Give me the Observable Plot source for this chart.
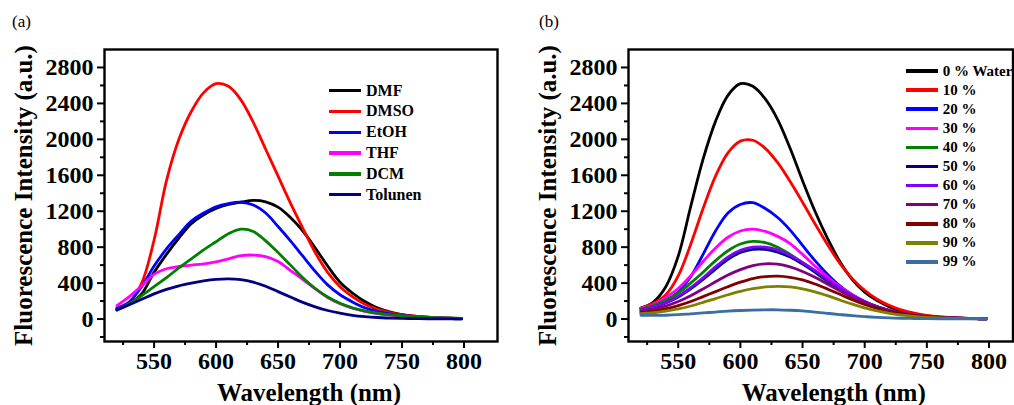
<!DOCTYPE html>
<html><head><meta charset="utf-8">
<script src="https://cdn.jsdelivr.net/npm/d3@7"></script>
<script src="https://cdn.jsdelivr.net/npm/@observablehq/plot@0.6"></script>
<style>
body{margin:0;background:#fff;}
#wrap{position:relative;width:1014px;height:405px;overflow:hidden;font-family:"Liberation Serif","Times New Roman",serif;color:#000;}
#wrap svg text{font-family:"Liberation Serif","Times New Roman",serif !important;}
.panel{position:absolute;top:0;}
.plabel{position:absolute;top:12px;font-size:17px;}
.legend{position:absolute;font-weight:bold;}
.legend .row{display:flex;align-items:center;white-space:nowrap;}
.legend .sw{display:inline-block;width:32px;height:3.5px;margin-right:5px;}
</style></head><body><div id="wrap"></div><script>
const wavelengths = [520,530,540,550,560,570,580,590,600,610,620,630,640,650,660,670,680,690,700,710,720,730,740,750,760,770,780,790,798];

// Panel (a): solvents
const solventNames = ["DMF","DMSO","EtOH","THF","DCM","Tolunen"];
const solventColors = ["#000000","#ff0000","#0000ff","#ff00ff","#008000","#000080"];
const DMF     = [110,170,280,520,720,900,1060,1160,1230,1275,1300,1320,1305,1245,1130,980,790,590,410,290,195,125,80,50,33,22,14,9,6];
const DMSO    = [125,190,400,880,1540,2000,2310,2520,2620,2590,2440,2190,1890,1590,1290,1010,740,520,360,250,165,110,72,46,32,22,15,10,6];
const EtOH    = [120,190,360,590,780,940,1090,1180,1250,1285,1300,1270,1180,1030,870,700,530,380,270,190,125,85,58,40,26,18,12,8,5];
const THF     = [150,250,370,500,560,585,600,615,635,670,705,712,695,640,540,440,335,240,170,120,85,60,44,33,24,17,12,8,6];
const DCM     = [100,170,260,360,460,570,670,770,860,950,1000,975,870,740,600,460,340,245,175,125,90,65,48,36,27,20,14,10,7];
const Tolunen = [100,160,220,280,330,370,400,425,442,448,438,410,365,305,245,185,135,95,65,42,27,17,11,7,5,3,2,1,0];
const solventSeries = [DMF, DMSO, EtOH, THF, DCM, Tolunen];

// Panel (b): water fractions
const waterNames = ["0 % Water","10 %","20 %","30 %","40 %","50 %","60 %","70 %","80 %","90 %","99 %"];
const waterColors = ["#000000","#ff0000","#0000ff","#ff00ff","#008000","#000080","#8000ff","#800080","#800000","#808000","#3a6ea5"];
const w0  = [120,190,360,700,1250,1780,2200,2490,2620,2590,2450,2220,1900,1540,1200,900,640,440,300,205,135,88,55,34,22,14,9,5,3];
const w10 = [125,175,270,480,830,1230,1590,1850,1980,1990,1900,1740,1530,1300,1060,830,620,450,320,220,150,100,66,42,27,17,10,6,3];
const w20 = [120,150,200,300,470,720,980,1180,1275,1295,1230,1130,990,820,650,500,370,270,195,135,92,60,40,26,17,11,7,4,2];
const w30 = [120,160,240,340,480,640,790,910,980,1000,975,920,840,720,590,470,360,270,195,135,92,60,40,26,17,11,7,4,2];
const w40 = [110,150,210,290,400,520,650,760,835,865,850,800,720,625,520,420,325,245,180,128,88,58,38,25,16,10,6,4,2];
const w50 = [95,130,178,245,335,440,555,665,740,775,775,745,690,612,525,430,338,257,188,135,94,63,42,27,17,11,7,4,2];
const w60 = [100,135,185,255,350,460,580,690,765,800,800,770,710,630,540,440,345,262,192,138,96,65,43,28,18,11,7,4,2];
const w70 = [85,110,145,195,260,335,415,490,550,595,615,610,580,530,465,390,315,245,183,133,93,63,42,27,17,11,7,4,2];
const w80 = [70,90,115,150,195,250,305,360,410,450,473,478,465,435,390,335,275,215,162,118,83,57,38,25,16,10,6,4,2];
const w90 = [60,70,88,112,145,185,228,270,308,338,357,364,358,337,303,260,212,166,125,90,63,43,29,19,12,8,5,3,2];
const w99 = [42,40,42,48,58,68,78,88,95,100,103,103,98,90,78,64,50,37,27,19,13,9,6,4,3,2,1,1,0];
const waterSeries = [w0,w10,w20,w30,w40,w50,w60,w70,w80,w90,w99];

const xTicks = [550,600,650,700,750,800];
const xMinor = [525,575,625,675,725,775];
const yTicks = [0,400,800,1200,1600,2000,2400,2800];
const yMinor = [-200,200,600,1000,1400,1800,2200,2600];
const xLabel = "Wavelength (nm)";
const yLabel = "Fluorescence Intensity (a.u.)";

function toRows(names, series) {
  const rows = [];
  names.forEach((n, i) => series[i].forEach((v, j) => rows.push({series: n, wl: wavelengths[j], value: v})));
  return rows;
}

const FONT = '"Liberation Serif","Times New Roman",serif';
const fmt = d3.format("d");

function makePlot(rows, names, colors, ml, mr, xd, labelDx) {
  return Plot.plot({
    width: 507, height: 405,
    marginLeft: ml, marginRight: mr, marginTop: 49, marginBottom: 64,
    x: {domain: xd},
    y: {domain: [-250, 3000]},
    color: {domain: names, range: colors},
    style: {fontFamily: FONT, fontWeight: "bold", fontSize: "23px", color: "black", background: "transparent", overflow: "visible"},
    marks: [
      Plot.line(rows, {x: "wl", y: "value", z: "series", stroke: "series", strokeWidth: 2.8, curve: "catmull-rom"}),
      Plot.frame({stroke: "black", strokeWidth: 2.4}),
      Plot.axisX({ticks: xTicks, tickSize: 7, tickPadding: 3, strokeWidth: 2, fontSize: 24, tickFormat: fmt, label: null}),
      Plot.axisX({ticks: xMinor, tickSize: 4, strokeWidth: 2, tickFormat: () => "", label: null}),
      Plot.axisY({ticks: yTicks, tickSize: 7, tickPadding: 4, strokeWidth: 2, fontSize: 24, tickFormat: fmt, label: null}),
      Plot.axisY({ticks: yMinor, tickSize: 4, strokeWidth: 2, tickFormat: () => "", label: null}),
      Plot.text([xLabel], {text: d => d, frameAnchor: "bottom", textAnchor: "middle", lineAnchor: "middle", dx: labelDx, dy: 51, fontSize: 25, fontWeight: "bold", fill: "black"}),
      Plot.text([yLabel], {text: d => d, frameAnchor: "left", textAnchor: "middle", lineAnchor: "middle", rotate: -90, dx: -81, fontSize: 25, fontWeight: "bold", fill: "black"})
    ]
  });
}

function makeLegend(names, colors, left, top, rowH, fs) {
  const d = document.createElement("div");
  d.className = "legend";
  d.style.left = left + "px"; d.style.top = top + "px"; d.style.fontSize = fs + "px";
  names.forEach((n, i) => {
    const r = document.createElement("div");
    r.className = "row"; r.style.height = rowH + "px";
    const s = document.createElement("span"); s.className = "sw"; s.style.background = colors[i];
    const t = document.createElement("span"); t.textContent = n;
    r.appendChild(s); r.appendChild(t); d.appendChild(r);
  });
  return d;
}

const wrap = document.getElementById("wrap");
const pa = makePlot(toRows(solventNames, solventSeries), solventNames, solventColors, 104, 10, [510, 827], 8);
pa.classList.add("panel"); pa.style.left = "0px";
const pb = makePlot(toRows(waterNames, waterSeries), waterNames, waterColors, 121, 1.5, [510, 819.3], 13);
pb.classList.add("panel"); pb.style.left = "507px";
wrap.appendChild(pa); wrap.appendChild(pb);

wrap.appendChild(makeLegend(solventNames, solventColors, 329, 80.3, 20.8, 16));
wrap.appendChild(makeLegend(waterNames, waterColors, 905.7, 61.5, 19.1, 15));

const la = document.createElement("div"); la.className = "plabel"; la.style.left = "12px"; la.textContent = "(a)";
const lb = document.createElement("div"); lb.className = "plabel"; lb.style.left = "539px"; lb.textContent = "(b)";
wrap.appendChild(la); wrap.appendChild(lb);
</script></body></html>
